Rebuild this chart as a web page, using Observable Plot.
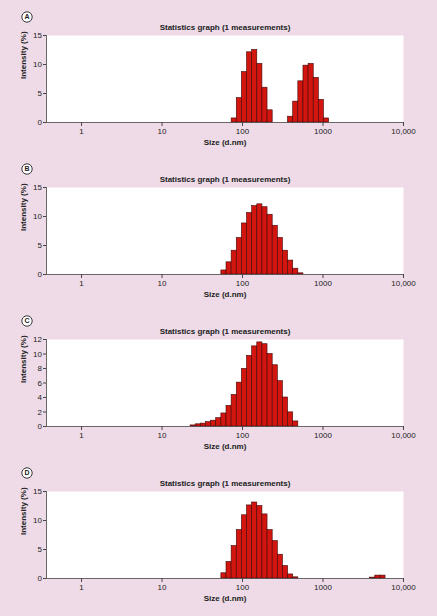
<!DOCTYPE html>
<html>
<head>
<meta charset="utf-8">
<script src="https://cdn.jsdelivr.net/npm/d3@7"></script>
<script src="https://cdn.jsdelivr.net/npm/@observablehq/plot@0.6"></script>
<style>
  html, body { margin: 0; padding: 0; background: #eedbe7; }
  #charts { width: 437px; height: 616px; overflow: hidden; }
  #charts svg { display: block; }
</style>
</head>
<body>
<div id="charts"></div>
<script>
// Malvern size classes (d.nm), bin centres
const sizeClasses = [0.4, 0.4632, 0.5365, 0.6213, 0.7195, 0.8332, 0.9649, 1.117, 1.294, 1.499,
  1.736, 2.01, 2.328, 2.696, 3.122, 3.615, 4.187, 4.849, 5.615, 6.503,
  7.531, 8.721, 10.1, 11.7, 13.54, 15.69, 18.17, 21.04, 24.36, 28.21,
  32.67, 37.84, 43.82, 50.75, 58.77, 68.06, 78.82, 91.28, 105.7, 122.4,
  141.8, 164.2, 190.1, 220.2, 255, 295.3, 342, 396.1, 458.7, 531.2,
  615.1, 712.4, 825, 955.4, 1106, 1281, 1484, 1718, 1990, 2305,
  2669, 3091, 3580, 4145, 4801, 5560, 6439, 7456, 8635, 10000];

const panelLetters = ["A", "B", "C", "D"];
const chartTitle = "Statistics graph (1 measurements)";
const xLabel = "Size (d.nm)";
const yLabel = "Intensity (%)";
const xTicks = [1, 10, 100, 1000, 10000];
const xTickLabels = ["1", "10", "100", "1000", "10,000"];

const sizesA = [78.82, 91.28, 105.7, 122.4, 141.8, 164.2, 190.1, 220.2, 396.1, 458.7, 531.2, 615.1, 712.4, 825, 955.4, 1106];
const intensityA = [0.7, 4.2, 8.7, 12.1, 12.5, 10.1, 6.0, 2.1, 1.0, 3.6, 7.1, 9.8, 10.1, 7.7, 3.9, 0.7];

const sizesB = [58.77, 68.06, 78.82, 91.28, 105.7, 122.4, 141.8, 164.2, 190.1, 220.2, 255, 295.3, 342, 396.1, 458.7, 531.2];
const intensityB = [0.7, 2.1, 4.1, 6.3, 8.8, 10.6, 11.8, 12.1, 11.6, 10.3, 8.4, 6.3, 4.1, 2.4, 1.0, 0.2];

const sizesC = [24.36, 28.21, 32.67, 37.84, 43.82, 50.75, 58.77, 68.06, 78.82, 91.28, 105.7, 122.4, 141.8, 164.2, 190.1, 220.2, 255, 295.3, 342, 396.1, 458.7];
const intensityC = [0.15, 0.3, 0.4, 0.6, 0.8, 1.15, 1.8, 2.85, 4.35, 6.05, 7.95, 9.75, 11.05, 11.6, 11.35, 10.0, 8.45, 6.25, 4.0, 1.95, 0.7];

const sizesD = [58.77, 68.06, 78.82, 91.28, 105.7, 122.4, 141.8, 164.2, 190.1, 220.2, 255, 295.3, 342, 396.1, 458.7, 4145, 4801, 5560];
const intensityD = [0.9, 2.85, 5.6, 8.35, 10.9, 12.6, 13.1, 12.5, 11.05, 8.35, 6.45, 4.1, 2.15, 0.7, 0.2, 0.15, 0.5, 0.5];

const yMaxes = [15, 15, 12, 15];
const yTickSets = [[0, 5, 10, 15], [0, 5, 10, 15], [0, 2, 4, 6, 8, 10, 12], [0, 5, 10, 15]];

const xDomain = [0.367, 10000];

function bins(sizes, values) {
  return sizes.map((s, k) => {
    const i = sizeClasses.indexOf(s);
    const lo = i > 0 ? Math.sqrt(sizeClasses[i - 1] * s) : s;
    const hi = i < sizeClasses.length - 1 ? Math.sqrt(sizeClasses[i + 1] * s) : s;
    return {x1: lo, x2: hi, y: values[k]};
  });
}

const panels = [
  bins(sizesA, intensityA),
  bins(sizesB, intensityB),
  bins(sizesC, intensityC),
  bins(sizesD, intensityD)
];

const container = document.getElementById("charts");
const ink = "#222";

panels.forEach((data, p) => {
  const chart = Plot.plot({
    width: 437,
    height: 152,
    marginLeft: 46,
    marginRight: 34,
    marginTop: 35,
    marginBottom: 30,
    style: {fontFamily: "'Liberation Sans', Arial, sans-serif", fontSize: "8px", color: ink, background: "transparent", overflow: "visible"},
    x: {type: "log", domain: xDomain},
    y: {domain: [0, yMaxes[p]]},
    marks: [
      Plot.frame({fill: "white", stroke: null}),
      Plot.rectY(data, {x1: "x1", x2: "x2", y: "y", fill: "#d3150f", stroke: "#3f0808", strokeWidth: 0.6}),
      Plot.ruleY([0], {stroke: "#444", strokeWidth: 0.8}),
      Plot.ruleX([xDomain[0]], {stroke: "#444", strokeWidth: 0.8}),
      Plot.axisX({ticks: xTicks, tickFormat: (d) => xTickLabels[xTicks.indexOf(d)], tickSize: 4, tickPadding: 2, label: null, stroke: "#444", fill: ink, fontSize: 8}),
      Plot.axisY({ticks: yTickSets[p], tickSize: 3, tickPadding: 1.5, label: null, stroke: "#444", fill: ink, fontSize: 8}),
      Plot.text([xLabel], {frameAnchor: "bottom", dy: 22, fontWeight: "bold", fontSize: 8, fill: ink}),
      Plot.text([yLabel], {frameAnchor: "left", dx: -23, rotate: -90, fontWeight: "bold", fontSize: 8, fill: ink}),
      Plot.text([chartTitle], {frameAnchor: "top", dy: -11, fontWeight: "bold", fontSize: 8, fill: ink}),
      Plot.dot([panelLetters[p]], {frameAnchor: "top-left", dx: -19.5, dy: -18.5, r: 5.2, stroke: ink, strokeWidth: 0.9, fill: "white"}),
      Plot.text([panelLetters[p]], {frameAnchor: "top-left", dx: -19.5, dy: -18.3, textAnchor: "middle", lineAnchor: "middle", fontWeight: "bold", fontSize: 7, fill: ink})
    ]
  });
  container.appendChild(chart);
});
</script>
</body>
</html>
